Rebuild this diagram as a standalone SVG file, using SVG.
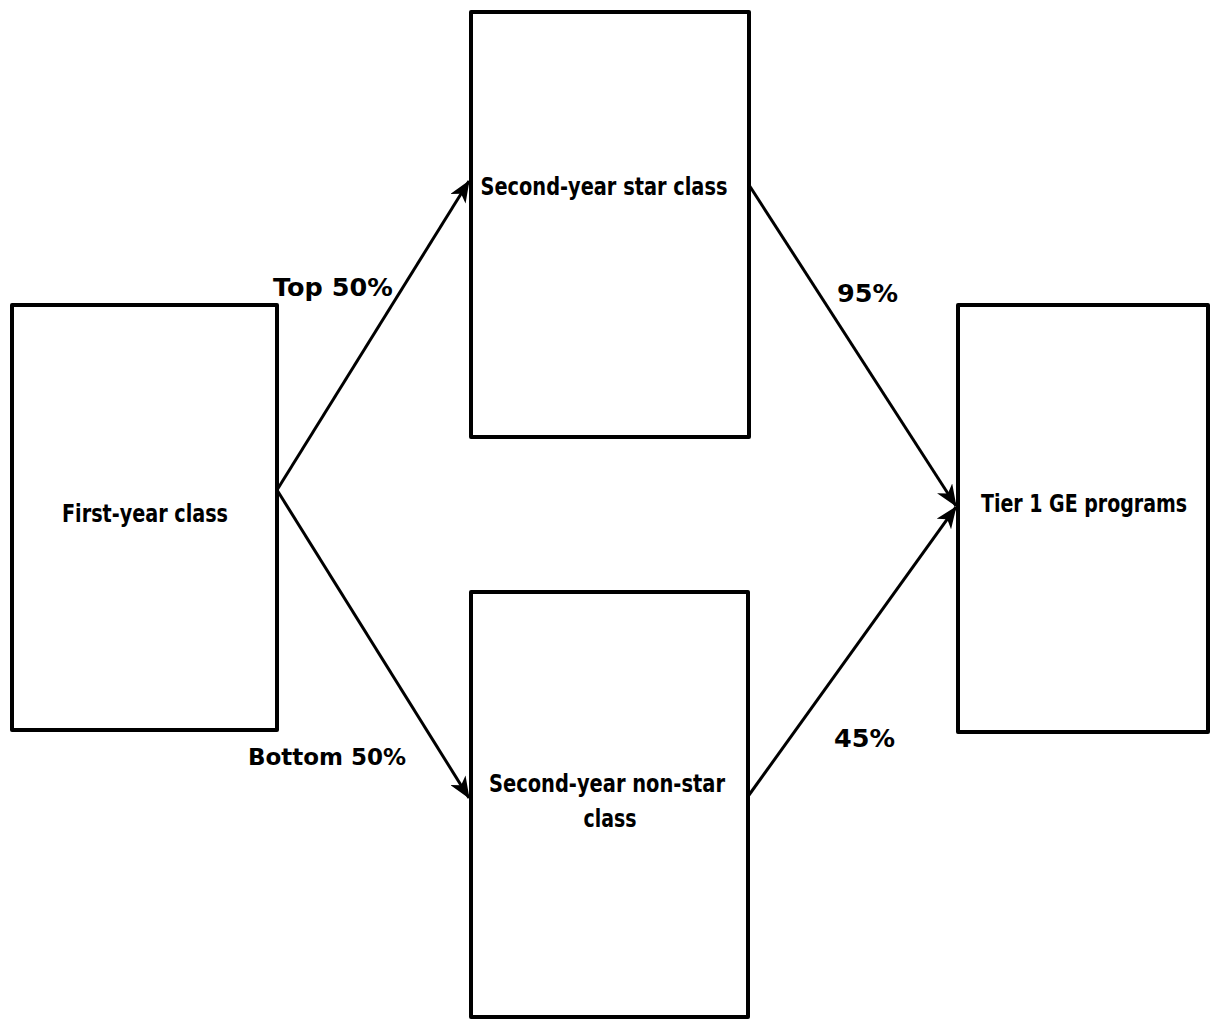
<svg xmlns="http://www.w3.org/2000/svg" width="1211" height="1021" viewBox="0 0 1211 1021">
<style>
.box{fill:#fff;stroke:#000;stroke-width:4;stroke-linejoin:round}
.nt{font-family:"DejaVu Sans Condensed","DejaVu Sans",sans-serif;font-weight:bold;font-size:25px;text-anchor:middle;fill:#000}
.lb{font-family:"DejaVu Sans",sans-serif;font-weight:bold;font-size:25.5px;fill:#000}
.cn{fill:none;stroke:#000;stroke-width:3}
</style>
<defs>
<marker id="ah" viewBox="0 0 22 18" refX="21" refY="9" markerWidth="22" markerHeight="18" markerUnits="userSpaceOnUse" orient="auto">
<path d="M0,0 L22,9 L0,18 L6,9 Z" fill="#000"/>
</marker>
</defs>
<rect width="1211" height="1021" fill="#fff"/>
<g id="connectors">
<line class="cn" x1="277" y1="490" x2="469" y2="181" marker-end="url(#ah)"/>
<line class="cn" x1="277" y1="490" x2="469" y2="798" marker-end="url(#ah)"/>
<line class="cn" x1="749" y1="185" x2="956" y2="506" marker-end="url(#ah)"/>
<line class="cn" x1="749" y1="795" x2="956" y2="507" marker-end="url(#ah)"/>
</g>
<g id="first-year">
<rect class="box" x="12" y="305" width="265" height="425"/>
<text class="nt" x="145" y="522" textLength="166" lengthAdjust="spacingAndGlyphs">First-year class</text>
</g>
<g id="star">
<rect class="box" x="471" y="12" width="278" height="425"/>
<text class="nt" x="604" y="195" textLength="247" lengthAdjust="spacingAndGlyphs">Second-year star class</text>
</g>
<g id="nonstar">
<rect class="box" x="471" y="592" width="277" height="425"/>
<text class="nt" x="607" y="792" textLength="236" lengthAdjust="spacingAndGlyphs">Second-year non-star</text>
<text class="nt" x="610" y="827" textLength="53" lengthAdjust="spacingAndGlyphs">class</text>
</g>
<g id="tier1">
<rect class="box" x="958" y="305" width="250" height="427"/>
<text class="nt" x="1084" y="512" textLength="206" lengthAdjust="spacingAndGlyphs">Tier 1 GE programs</text>
</g>
<g id="labels">
<text class="lb" x="273" y="296">Top 50%</text>
<text class="lb" x="248" y="765" style="font-size:23px">Bottom 50%</text>
<text class="lb" x="837" y="302">95%</text>
<text class="lb" x="834" y="747">45%</text>
</g>
</svg>
